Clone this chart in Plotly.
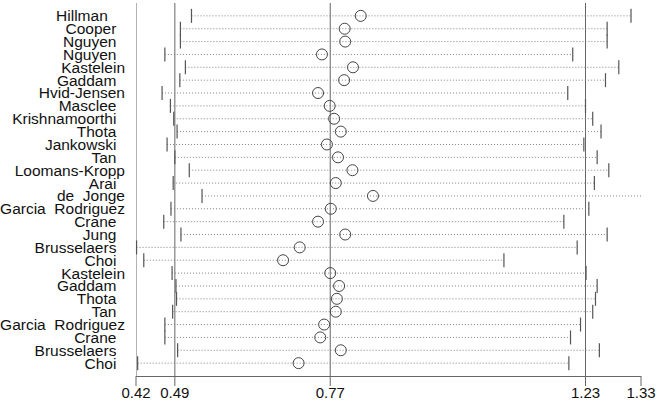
import plotly.graph_objects as go

NB = "\u00a0"

# study labels, top to bottom (trailing no-break spaces keep the ragged right edge)
studies = [
    "Hillman" + NB * 4, "Cooper" + NB * 2, "Nguyen" + NB * 2, "Nguyen" + NB * 2,
    "Kastelein", "Gaddam" + NB * 2, "Hvid-Jensen", "Masclee" + NB * 2,
    "Krishnamoorthi" + NB * 2, "Thota" + NB * 2, "Jankowski" + NB * 2, "Tan" + NB * 2,
    "Loomans-Kropp", "Arai" + NB * 2, "de" + NB * 2 + "Jonge", "Garcia" + NB * 2 + "Rodriguez",
    "Crane" + NB * 2, "Jung" + NB * 2, "Brusselaers" + NB * 2, "Choi" + NB * 2,
    "Kastelein", "Gaddam" + NB * 2, "Thota" + NB * 2, "Tan" + NB * 2,
    "Garcia" + NB * 2 + "Rodriguez", "Crane" + NB * 2, "Brusselaers" + NB * 2, "Choi" + NB * 2,
]
lower = [
    0.520, 0.500, 0.500, 0.472, 0.509, 0.499, 0.467, 0.482, 0.488, 0.494,
    0.476, 0.490, 0.516, 0.487, 0.539, 0.483, 0.470, 0.501, 0.421, 0.434,
    0.485, 0.492, 0.493, 0.486, 0.472, 0.472, 0.495, 0.423,
]
estimate = [
    0.825, 0.796, 0.797, 0.755, 0.811, 0.795, 0.748, 0.769, 0.777, 0.789,
    0.764, 0.784, 0.810, 0.780, 0.847, 0.771, 0.748, 0.797, 0.715, 0.685,
    0.770, 0.786, 0.782, 0.780, 0.759, 0.752, 0.789, 0.713,
]
upper = [
    1.312, 1.269, 1.269, 1.207, 1.290, 1.266, 1.198, 1.230, 1.243, 1.258,
    1.227, 1.251, 1.272, 1.246, 1.332, 1.236, 1.191, 1.269, 1.215, 1.083,
    1.231, 1.251, 1.248, 1.243, 1.221, 1.203, 1.255, 1.200,
]
ref_lines = [0.42, 0.49, 0.77, 1.23]
x_ticks = [0.42, 0.49, 0.77, 1.23, 1.33]
x_ticktext = ["0.42", "0.49", "0.77", "1.23", "1.33"]

x_min, x_max = 0.42, 1.33
rows = list(range(len(studies)))
plot_h = 404 - 3 - 28

# dotted whisker segments, separated by None
seg_x, seg_y = [], []
for i, lo, hi in zip(rows, lower, upper):
    seg_x += [lo, hi, None]
    seg_y += [i, i, None]

fig = go.Figure()
fig.add_trace(go.Scatter(
    x=seg_x, y=seg_y, mode="lines",
    line=dict(color="#808080", width=1, dash="1px,2px"),
    hoverinfo="skip", cliponaxis=False,
))
fig.add_trace(go.Scatter(
    x=lower + upper, y=rows + rows, mode="markers",
    marker=dict(symbol="line-ns", size=10, line=dict(color="#555555", width=1.2)),
    cliponaxis=False,
))
fig.add_trace(go.Scatter(
    x=estimate, y=rows, mode="markers",
    marker=dict(symbol="circle-open", size=11, color="#444444", line=dict(width=1)),
    cliponaxis=False,
))

for v in ref_lines:
    fig.add_shape(type="line", x0=v, x1=v, y0=-1, y1=len(studies),
                  xref="x", yref="y", line=dict(color="#666666", width=1), layer="below")

# outside tick marks on the x axis
for v in x_ticks:
    xp = (v - x_min) / (x_max - x_min)
    fig.add_shape(type="line", x0=xp, x1=xp, y0=0, y1=-10 / plot_h,
                  xref="paper", yref="paper", line=dict(color="#666666", width=1))

fig.update_layout(
    width=666, height=404,
    margin=dict(l=136, r=25, t=3, b=28),
    plot_bgcolor="white", paper_bgcolor="white",
    showlegend=False,
    font=dict(family="Liberation Sans, Arial, sans-serif", color="#111111"),
)
fig.update_xaxes(
    range=[x_min, x_max], tickvals=x_ticks, ticktext=x_ticktext,
    showgrid=False, zeroline=False, automargin=False,
    showline=True, linecolor="#666666", linewidth=1,
    ticks="", ticklabelstandoff=3,
    tickfont=dict(size=15),
)
fig.update_yaxes(
    range=[len(studies), -1], tickvals=rows, ticktext=studies,
    showgrid=False, zeroline=False, showline=False, automargin=False,
    ticks="", ticklabelstandoff=10,
    tickfont=dict(size=15.5),
)

# drop the default page margin so the figure sits at the window's corner
fig.write_html("out.html", config={"displayModeBar": False},
               post_script="document.body.style.margin='0';")
